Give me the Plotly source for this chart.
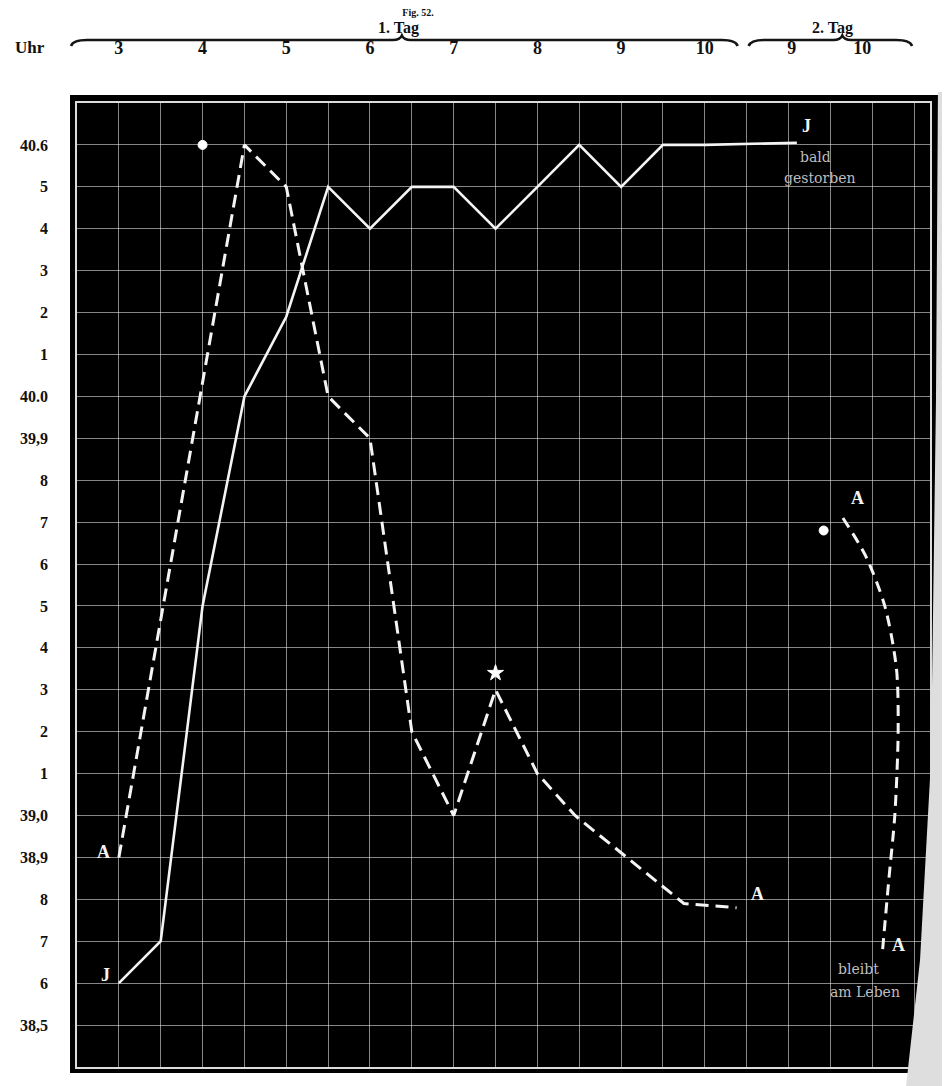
import plotly.graph_objects as go

# ---------------- data ----------------
# x = time position in hours on the chart (day 1: 3..10 Uhr; day 2 compressed after 10)
J_x = [3.0, 3.5, 4.0, 4.5, 5.0, 5.5, 6.0, 6.5, 7.0, 7.5, 8.0, 8.5, 9.0, 9.5, 10.0, 11.1]
J_y = [38.6, 38.7, 39.5, 40.0, 40.19, 40.5, 40.4, 40.5, 40.5, 40.4, 40.5, 40.6, 40.5, 40.6, 40.6, 40.605]

A1_x = [3.0, 3.5, 4.0, 4.5, 5.0, 5.5, 6.0, 6.5, 7.0, 7.5, 8.0, 8.45, 9.75, 10.38]
A1_y = [38.9, 39.47, 40.03, 40.6, 40.5, 40.0, 39.9, 39.2, 39.0, 39.3, 39.1, 39.0, 38.79, 38.78]

A2_x = [11.65, 11.92, 12.15, 12.29, 12.31, 12.27, 12.2, 12.12]
A2_y = [39.71, 39.62, 39.50, 39.35, 39.20, 39.00, 38.85, 38.67]

mark_x = [4.0, 7.5, 11.42]
mark_y = [40.6, 39.34, 39.68]
mark_sym = ["circle", "star", "circle"]

hour_pos = [3, 4, 5, 6, 7, 8, 9, 10, 11.04, 11.88]
hour_lab = ["3", "4", "5", "6", "7", "8", "9", "10", "9", "10"]

temp_vals = [40.6, 40.5, 40.4, 40.3, 40.2, 40.1, 40.0, 39.9, 39.8, 39.7, 39.6,
             39.5, 39.4, 39.3, 39.2, 39.1, 39.0, 38.9, 38.8, 38.7, 38.6, 38.5]
temp_lab = ["40.6", "5", "4", "3", "2", "1", "40.0", "39,9", "8", "7", "6",
            "5", "4", "3", "2", "1", "39,0", "38,9", "8", "7", "6", "38,5"]

# ---------------- layout geometry (page pixels) ----------------
W, H = 950, 1086
OFF = 8                      # default body margin of the html page
L, R, T, B = 74, 930, 103, 1067
X0 = 2.5
X1 = X0 + (R - L) / 84.0

def px_x(px):
    return (px - L) / (R - L)

def px_y(py):
    return (B - py) / (B - T)

SERIF = "Liberation Serif"
WHITE = "#f4f4f4"

fig = go.Figure()

fig.add_trace(go.Scatter(x=J_x, y=J_y, mode="lines",
                         line=dict(color=WHITE, width=2.6),
                         showlegend=False, hoverinfo="skip"))
fig.add_trace(go.Scatter(x=A1_x, y=A1_y, mode="lines",
                         line=dict(color=WHITE, width=3, dash="13px,7px"),
                         showlegend=False, hoverinfo="skip"))
fig.add_trace(go.Scatter(x=A2_x, y=A2_y, mode="lines",
                         line=dict(color=WHITE, width=3, dash="11px,7px",
                                   shape="spline", smoothing=0.8),
                         showlegend=False, hoverinfo="skip"))
fig.add_trace(go.Scatter(x=mark_x, y=mark_y, mode="markers", opacity=1,
                         marker=dict(color="#ffffff", size=[9, 12, 9], symbol=mark_sym,
                                     opacity=1, line=dict(width=1, color="#ffffff")),
                         showlegend=False, hoverinfo="skip"))
# carrier for the top hour axis
fig.add_trace(go.Scatter(x=[None], y=[None], xaxis="x2", yaxis="y",
                         showlegend=False, hoverinfo="skip"))

gridc = "rgba(225,225,225,0.6)"
tickfont = dict(family=SERIF, size=18, color="#111", weight=700)

fig.update_layout(
    width=W - OFF, height=H - OFF,
    margin=dict(l=L - OFF, r=W - R, t=T - OFF, b=H - B, pad=0),
    paper_bgcolor="white",
    plot_bgcolor="black",
    title=dict(text="Fig. 52.", x=(418 - OFF) / (W - OFF), xanchor="center",
               y=1 - (12 - OFF) / (H - OFF), yanchor="middle",
               font=dict(family=SERIF, size=10, color="#111", weight=700)),
    xaxis=dict(range=[X0, X1], tick0=X0, dtick=0.5, showgrid=True, gridcolor=gridc,
               gridwidth=1, showticklabels=False, ticks="", zeroline=False,
               showline=True, mirror=True, linecolor="#dcdcdc", linewidth=1.5),
    xaxis2=dict(range=[X0, X1], overlaying="x", side="top", anchor="y",
                tickmode="array", tickvals=hour_pos, ticktext=hour_lab,
                ticks="outside", ticklen=41, tickcolor="rgba(0,0,0,0)",
                showgrid=False, zeroline=False, showline=False, tickfont=tickfont),
    yaxis=dict(range=[38.4, 40.7], tickmode="array", tickvals=temp_vals, ticktext=temp_lab,
               showgrid=True, gridcolor=gridc, gridwidth=1, zeroline=False,
               ticks="outside", ticklen=24, tickcolor="rgba(0,0,0,0)",
               showline=True, mirror=True, linecolor="#dcdcdc", linewidth=1.5,
               tickfont=dict(family=SERIF, size=16, color="#111", weight=700)),
)

# ---------------- frame, page curl, braces ----------------
shapes = []
shapes.append(dict(type="rect", xref="paper", yref="paper", layer="below",
                   x0=px_x(67), x1=px_x(938), y0=px_y(1073), y1=px_y(95),
                   fillcolor="black", line=dict(width=0)))

curl = [(938, 92), (936, 400), (931, 760), (920, 960), (906, 1086), (952, 1086), (952, 92)]
path = "M " + " L ".join(f"{px_x(a):.5f},{px_y(b):.5f}" for a, b in curl) + " Z"
shapes.append(dict(type="path", xref="paper", yref="paper", layer="above", path=path,
                   fillcolor="#dedede", line=dict(width=0)))


def brace(x0, xm, x1, yl=40, yt=35.5, ye=46):
    pts = [
        ("M", [(x0, ye)]),
        ("Q", [(x0 + 2, yl), (x0 + 16, yl)]),
        ("L", [(xm - 9, yl)]),
        ("Q", [(xm - 2, yl), (xm, yt)]),
        ("Q", [(xm + 2, yl), (xm + 9, yl)]),
        ("L", [(x1 - 16, yl)]),
        ("Q", [(x1 - 2, yl), (x1, ye)]),
    ]
    s = ""
    for cmd, ps in pts:
        s += cmd + " " + " ".join(f"{px_x(a):.5f},{px_y(b):.5f}" for a, b in ps) + " "
    return s.strip()

for b in [(68, 400, 737), (748, 842, 912)]:
    shapes.append(dict(type="path", xref="paper", yref="paper", path=brace(*b),
                       line=dict(color="#151515", width=2.6)))

fig.update_layout(shapes=shapes)

# ---------------- texts ----------------
ann = []

def ptext(txt, px, py, size=16, weight=700, color="#111"):
    ann.append(dict(text=txt, xref="paper", yref="paper", x=px_x(px), y=px_y(py),
                    xanchor="center", yanchor="middle", showarrow=False,
                    font=dict(family=SERIF, size=size, color=color, weight=weight)))

ptext("Uhr", 27, 48, size=17)
ptext("1. Tag", 397, 28, size=16)
ptext("2. Tag", 832, 28, size=16)

def dtext(txt, x, y, dx, dy, size=18, weight=700, color=WHITE, family=SERIF):
    ann.append(dict(text=txt, x=x, y=y, xref="x", yref="y", xshift=dx, yshift=dy,
                    xanchor="center", yanchor="middle", showarrow=False,
                    font=dict(family=family, size=size, color=color, weight=weight)))

SMALL = dict(size=14, weight=400, color="#bdbdbd", family="DejaVu Serif")
dtext("J", J_x[0], J_y[0], -13, 8)
dtext("A", A1_x[0], A1_y[0], -15, 5)
dtext("J", J_x[-1], J_y[-1], 10, 17)
dtext("bald", J_x[-1], J_y[-1], 19, -14, **SMALL)
dtext("gestorben", J_x[-1], J_y[-1], 23, -35, **SMALL)
dtext("A", A1_x[-1], A1_y[-1], 21, 14)
dtext("A", A2_x[0], A2_y[0], 15, 20)
dtext("A", A2_x[-1], A2_y[-1], 16, 9)
dtext("bleibt", A2_x[-1], A2_y[-1], -24, -15, **SMALL)
dtext("am Leben", A2_x[-1], A2_y[-1], -17, -38, **SMALL)

fig.update_layout(annotations=ann)

fig.write_html("out.html")
